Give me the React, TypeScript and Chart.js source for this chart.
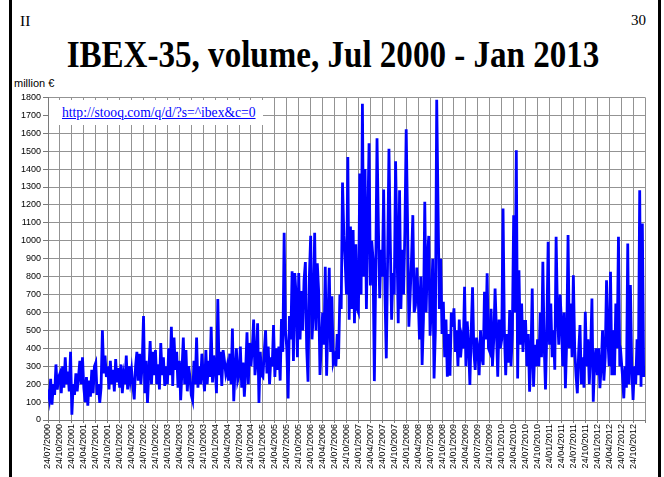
import React, { useEffect, useRef } from 'react';
import { Chart, registerables } from 'chart.js';

Chart.register(...registerables);

// x tick labels, one every 3 months starting 24/07/2000
const quarterLabels = [
  '24/07/2000', '24/10/2000',
  '24/01/2001', '24/04/2001', '24/07/2001', '24/10/2001',
  '24/01/2002', '24/04/2002', '24/07/2002', '24/10/2002',
  '24/01/2003', '24/04/2003', '24/07/2003', '24/10/2003',
  '24/01/2004', '24/04/2004', '24/07/2004', '24/10/2004',
  '24/01/2005', '24/04/2005', '24/07/2005', '24/10/2005',
  '24/01/2006', '24/04/2006', '24/07/2006', '24/10/2006',
  '24/01/2007', '24/04/2007', '24/07/2007', '24/10/2007',
  '24/01/2008', '24/04/2008', '24/07/2008', '24/10/2008',
  '24/01/2009', '24/04/2009', '24/07/2009', '24/10/2009',
  '24/01/2010', '24/04/2010', '24/07/2010', '24/10/2010',
  '24/01/2011', '24/04/2011', '24/07/2011', '24/10/2011',
  '24/01/2012', '24/04/2012', '24/07/2012', '24/10/2012',
];

const POINTS_PER_MONTH = 3;
const X_MAX_MONTHS = 150;
const Y_MAX = 1800;
const Y_STEP = 100;

// volume, million € (3 readings per month)
const vol2000 = [170, 120, 230, 85, 200, 140, 310, 170, 240, 260, 150, 300, 180, 350, 200, 270, 160, 380];
const vol2001 = [30, 200, 140, 260, 160, 240, 330, 200, 350, 180, 100, 240, 80, 220, 130, 280, 150, 300,
  320, 140, 200, 95, 180, 500, 260, 360, 240, 300, 170, 330, 200, 280, 160, 340, 210, 290];
const vol2002 = [180, 310, 150, 250, 200, 360, 170, 300, 220, 280, 190, 115, 300, 380, 220, 370, 200, 310,
  580, 150, 330, 95, 270, 440, 200, 380, 250, 390, 200, 310, 170, 430, 250, 350, 190, 300];
const vol2003 = [200, 400, 250, 520, 190, 460, 280, 380, 180, 330, 110, 280, 460, 200, 390, 160, 300, 240,
  140, 110, 330, 200, 460, 180, 300, 200, 370, 250, 160, 390, 200, 330, 240, 520, 210, 360];
const vol2004 = [300, 150, 675, 250, 380, 190, 390, 330, 260, 300, 220, 370, 200, 510, 105, 280, 400, 220,
  250, 410, 180, 320, 130, 280, 490, 200, 430, 300, 400, 560, 250, 330, 540, 95, 380, 250];
const vol2005 = [240, 380, 500, 260, 410, 200, 350, 300, 530, 240, 400, 280, 410, 220, 563, 380, 1045, 500,
  400, 120, 580, 450, 830, 330, 820, 700, 350, 820, 450, 720, 500, 780, 881, 400, 214, 800];
const vol2006 = [1028, 450, 600, 1045, 500, 874, 720, 251, 420, 600, 420, 855, 247, 540, 850, 380, 690, 320,
  350, 300, 480, 340, 700, 620, 1325, 1030, 880, 700, 1468, 560, 1080, 620, 1060, 540, 980, 620];
const vol2007 = [600, 1375, 700, 1765, 800, 1400, 620, 1100, 1544, 750, 1000, 900, 217, 800, 1572, 1100, 680, 950,
  800, 1286, 700, 344, 900, 1514, 1000, 560, 820, 700, 1443, 1000, 540, 1282, 620, 950, 700, 1050];
const vol2008 = [1622, 1115, 520, 700, 900, 1143, 600, 640, 850, 700, 450, 800, 307, 560, 1217, 600, 900, 1027,
  470, 650, 900, 232, 500, 1787, 1190, 620, 900, 480, 660, 350, 560, 242, 480, 247, 600, 520];
const vol2009 = [623, 380, 500, 300, 560, 350, 450, 400, 743, 300, 550, 420, 195, 500, 740, 380, 280, 460,
  400, 250, 500, 350, 307, 715, 450, 818, 400, 380, 620, 300, 450, 734, 500, 242, 560, 400];
const vol2010 = [450, 1180, 500, 250, 480, 320, 613, 300, 480, 1143, 600, 1505, 232, 836, 420, 650, 380, 550,
  550, 300, 480, 158, 350, 734, 186, 420, 300, 450, 300, 600, 350, 883, 420, 171, 500, 994];
const vol2011 = [420, 650, 350, 500, 280, 1022, 600, 420, 700, 550, 300, 600, 177, 450, 1032, 400, 650, 350,
  808, 400, 250, 149, 380, 530, 200, 350, 180, 604, 300, 450, 200, 380, 678, 102, 330, 400];
const vol2012 = [250, 400, 177, 300, 500, 220, 350, 780, 450, 300, 827, 250, 500, 250, 650, 400, 1022, 300,
  350, 250, 121, 300, 180, 985, 200, 753, 300, 112, 300, 200, 450, 250, 1282, 186, 1097, 240];

const FONT_SANS = '"Liberation Sans", Arial, sans-serif';
const FONT_SERIF = '"Liberation Serif", "Times New Roman", serif';

export default function App() {
  const ref = useRef<HTMLCanvasElement>(null);

  useEffect(() => {
    const volumes = [
      ...vol2000, ...vol2001, ...vol2002, ...vol2003, ...vol2004, ...vol2005, ...vol2006,
      ...vol2007, ...vol2008, ...vol2009, ...vol2010, ...vol2011, ...vol2012,
    ];
    const points = volumes.map((v, i) => ({ x: i / POINTS_PER_MONTH, y: v }));
    const gridColor = '#939393';
    const axisColor = '#7a7a7a';

    const chart = new Chart(ref.current as HTMLCanvasElement, {
      type: 'line',
      data: {
        datasets: [
          {
            data: points,
            borderColor: '#0000ff',
            borderWidth: 2.8,
            pointRadius: 0,
            tension: 0,
            fill: false,
          },
        ],
      },
      options: {
        animation: false,
        responsive: false,
        devicePixelRatio: 1,
        layout: { padding: { left: 0, right: 19, top: 7, bottom: 0 } },
        plugins: { legend: { display: false }, tooltip: { enabled: false }, title: { display: false } },
        scales: {
          x: {
            type: 'linear',
            min: 0,
            max: X_MAX_MONTHS,
            afterFit: (s: any) => { s.height = 57; },
            grid: { color: gridColor, lineWidth: 1, tickLength: 3, tickColor: axisColor },
            border: { color: axisColor, width: 1 },
            ticks: {
              stepSize: 3,
              maxTicksLimit: 100,
              autoSkip: false,
              maxRotation: 90,
              minRotation: 90,
              padding: 1,
              color: '#000',
              font: { family: FONT_SANS, size: 9 },
              callback: (v: any) => {
                const i = Math.round(Number(v) / 3);
                return quarterLabels[i] ?? '';
              },
            },
          },
          y: {
            min: 0,
            max: Y_MAX,
            afterFit: (s: any) => { s.width = 48; },
            grid: { color: gridColor, lineWidth: 1, tickLength: 5, tickColor: axisColor },
            border: { color: axisColor, width: 1 },
            ticks: {
              stepSize: Y_STEP,
              maxTicksLimit: 100,
              padding: 2,
              color: '#000',
              font: { family: FONT_SANS, size: 9 },
              callback: (v: any) => String(v),
            },
          },
        },
      },
    });
    return () => chart.destroy();
  }, []);

  return (
    <div style={{ position: 'absolute', left: 0, top: 0, width: 664, height: 477, background: '#fff', overflow: 'hidden' }}>
      <div style={{ position: 'absolute', left: 9, top: 0, width: 3, height: 477, background: '#000' }} />
      <div style={{ position: 'absolute', left: 658, top: 0, width: 3, height: 477, background: '#000' }} />
      <div style={{ position: 'absolute', left: 20, top: 13, fontFamily: FONT_SERIF, fontSize: 15.5, lineHeight: 1, color: '#000' }}>II</div>
      <div style={{ position: 'absolute', right: 18, top: 13, fontFamily: FONT_SERIF, fontSize: 15, lineHeight: 1, color: '#000' }}>30</div>
      <div style={{ position: 'absolute', left: 1, top: 35, width: 664, textAlign: 'center', fontFamily: FONT_SERIF, fontWeight: 'bold', fontSize: 38, lineHeight: 1, color: '#000', whiteSpace: 'nowrap', transform: 'scaleX(0.87)', transformOrigin: 'center' }}>
        IBEX-35, volume, Jul 2000 - Jan 2013
      </div>
      <div style={{ position: 'absolute', left: 14, top: 78, fontFamily: FONT_SANS, fontSize: 11, lineHeight: 1, color: '#000', whiteSpace: 'nowrap' }}>million €</div>
      <canvas ref={ref} width={664} height={387} style={{ position: 'absolute', left: 0, top: 90, width: 664, height: 387 }} />
      <div style={{ position: 'absolute', left: 49, top: 100, width: 214, height: 25, background: '#fff' }} />
      <div style={{ position: 'absolute', left: 62, top: 106, fontFamily: FONT_SERIF, fontSize: 13.6, lineHeight: 1, color: '#0000ff', textDecoration: 'underline', whiteSpace: 'nowrap' }}>
        http://stooq.com/q/d/?s=^ibex&amp;c=0
      </div>
    </div>
  );
}
